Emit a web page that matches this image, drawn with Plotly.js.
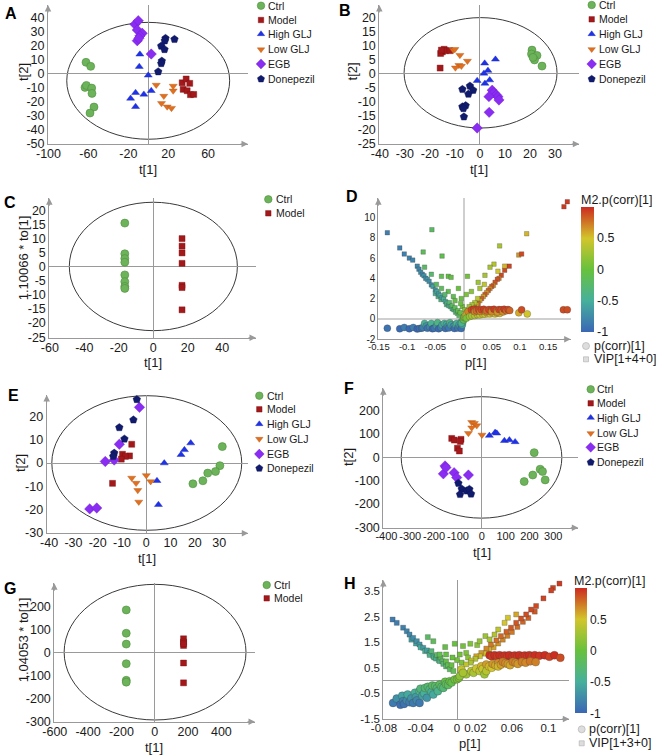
<!DOCTYPE html>
<html><head><meta charset="utf-8">
<script src="https://cdn.plot.ly/plotly-3.0.1.min.js"></script>
<style>html,body{margin:0;padding:0;background:#fff}#chart{width:658px;height:755px}</style>
</head><body><div id="chart"></div>
<script>
// ---------------- DATA ----------------
const GROUPS6 = ['Ctrl','Model','High GLJ','Low GLJ','EGB','Donepezil'];
const GROUPS2 = ['Ctrl','Model'];

// Panel A scores (t[1], t[2])
const A_Ctrl_t1 = [-62.4,-57.7,-63.4,-62.0,-56.7,-56.4,-54.4,-58.4];
const A_Ctrl_t2 = [7.9,5.0,-10.0,-8.6,-10.5,-14.3,-24.0,-28.3];
const A_Model_t1 = [34.0,38.0,41.6,35.0,39.0,42.3,45.6];
const A_Model_t2 = [-6.7,-4.0,-7.1,-11.4,-12.4,-15.2,-15.0];
const A_High_t1 = [-8.4,-9.0,0.0,-12.7,-17.7,-4.4,3.0,-12.7];
const A_High_t2 = [13.6,4.8,-1.4,-13.8,-17.9,-15.0,-12.4,-23.8];
const A_Low_t1 = [8.0,25.0,25.0,15.6,13.3,19.0,23.3];
const A_Low_t2 = [-8.3,-9.0,-12.4,-16.2,-21.4,-23.8,-24.8];
const A_EGB_t1 = [-13.4,-10.0,-11.0,-6.0,-8.4,-11.0,3.0,-9.4];
const A_EGB_t2 = [35.0,37.6,31.0,28.6,26.7,23.3,13.8,25.0];
const A_Don_t1 = [17.3,16.6,26.3,13.0,16.3,13.6,13.0,10.0];
const A_Don_t2 = [25.0,23.3,24.3,19.5,17.1,8.8,7.1,1.2];
const A_ellipse = [-81.7,81.6,-47.0,36.4];

// Panel B
const B_Ctrl_t1 = [20.8,20.6,22.8,21.8,24.8,21.2];
const B_Ctrl_t2 = [8.3,6.9,6.4,4.8,2.6,5.7];
const B_Model_t1 = [-14.3,-15.0,-15.7,-13.7,-12.0,-15.9,-15.4];
const B_Model_t2 = [8.6,7.7,7.1,8.1,8.1,1.9,8.3];
const B_High_t1 = [1.9,6.2,3.2,1.6,-1.1,2.0,3.9];
const B_High_t2 = [3.6,5.0,1.0,0.0,-2.6,-3.6,-2.4];
const B_Low_t1 = [-10.6,-10.0,-8.0,-5.0,-8.4,-7.4,-9.8];
const B_Low_t2 = [8.3,8.6,6.5,4.4,2.9,2.6,2.0];
const B_EGB_t1 = [4.9,5.6,6.5,7.2,7.6,3.6,3.7,-1.1];
const B_EGB_t2 = [-6.0,-6.9,-7.7,-8.3,-9.5,-8.3,-13.9,-19.5];
const B_Don_t1 = [-7.0,-4.0,-2.7,-4.6,-7.0,-5.7,-6.6,-6.4];
const B_Don_t2 = [-5.7,-4.5,-6.0,-7.4,-11.9,-11.5,-12.5,-15.5];
const B_ellipse = [-30.3,30.8,-19.5,19.9];

// Panel C (t[1], 1.10066*to[1])
const C_Ctrl_t1 = [-16.5,-16.5,-16.5,-16.5,-16.5,-16.5,-16.5,-16.5];
const C_Ctrl_to = [15.5,4.6,2.9,1.6,-2.9,-5.3,-7.0,-7.7];
const C_Model_t1 = [16.7,16.7,16.7,16.7,16.7,16.7,16.7];
const C_Model_to = [10.0,7.3,4.9,1.2,-6.6,-7.4,-15.3];
const C_ellipse = [-48.7,48.8,-22.7,22.9];

// Panel E
const E_Ctrl_t1 = [31.3,30.3,28.5,25.3,23.3,19.2];
const E_Ctrl_t2 = [7.1,-1.1,-3.6,-4.3,-7.6,-8.9];
const E_Model_t1 = [-6.0,-6.9,-9.8,-8.6,-10.3,-13.9];
const E_Model_t2 = [8.1,3.1,3.8,2.9,1.7,-8.7];
const E_High_t1 = [18.3,15.7,14.3,7.4,4.4,5.0];
const E_High_t2 = [8.6,5.7,3.6,0.0,-7.6,-17.9];
const E_Low_t1 = [-6.0,-4.2,-3.5,-3.1,0.0,1.8];
const E_Low_t2 = [-6.4,-8.6,-11.7,-16.7,-5.3,-7.9];
const E_EGB_t1 = [-2.8,-11.1,-16.9,-13.2,-23.3,-20.4];
const E_EGB_t2 = [24.0,8.1,0.7,1.3,-19.7,-19.3];
const E_Don_t1 = [-3.9,-5.3,-11.1,-9.0,-13.2,-13.6];
const E_Don_t2 = [27.4,18.6,15.3,10.4,4.3,2.9];
const E_ellipse = [-38.9,39.3,-28.9,29.0];

// Panel F
const F_Ctrl_t1 = [220,214,178,245,255,266];
const F_Ctrl_t2 = [20,-76,-104,-51,-61,-97];
const F_Model_t1 = [-126,-115,-87,-90,-102,-94];
const F_Model_t2 = [81,74,77,68,39,27];
const F_High_t1 = [32,56,63,95,116,140];
const F_High_t2 = [93,106,103,71,74,66];
const F_Low_t1 = [-42,-31,-21,-42,-56,1];
const F_Low_t2 = [150,146,136,127,103,96];
const F_EGB_t1 = [-154,-161,-116,-105,-56,-150];
const F_EGB_t2 = [-37,-71,-66,-87,-76,-44];
const F_Don_t1 = [-98,-84,-91,-63,-52,-45];
const F_Don_t2 = [-111,-136,-159,-144,-137,-157];
const F_ellipse = [-338,336,-261,260];

// Panel G (t[1], 1.04053*to[1])
const G_Ctrl_t1 = [-171,-171,-171,-171,-171,-171];
const G_Ctrl_to = [184,83,36,-49,-121,-129];
const G_Model_t1 = [173,173,173,173,173,173];
const G_Model_to = [59,45,30,38,-46,-132];
const G_ellipse = [-544,548,-293,295];

// Panel D loadings: squares [p1, VIP, p(corr)], circles [p1, p(corr)]
const D_squares = [
 [-0.135,8.5,-0.85],[-0.113,7.0,-0.84],[-0.105,6.4,-0.83],[-0.096,6.0,-0.82],[-0.090,5.8,-0.80],[-0.082,5.2,-0.78],[-0.079,4.9,-0.80],[-0.076,4.6,-0.72],[-0.073,4.4,-0.78],[-0.070,4.25,-0.70],[-0.067,4.0,-0.76],[-0.064,3.9,-0.66],[-0.061,3.7,-0.74],[-0.057,3.35,-0.72],[-0.054,3.2,-0.60],[-0.050,2.86,-0.70],[-0.050,2.5,-0.45],[-0.047,2.7,-0.56],[-0.045,2.2,-0.40],[-0.044,2.46,-0.66],[-0.041,2.3,-0.50],[-0.040,1.9,-0.35],[-0.038,2.1,-0.62],[-0.035,1.95,-0.45],[-0.032,1.7,-0.55],[-0.030,1.4,-0.30],[-0.029,1.55,-0.40],[-0.026,1.3,-0.50],[-0.025,1.6,-0.25],[-0.023,1.2,-0.35],[-0.020,1.0,-0.42],[-0.020,1.3,-0.20],[-0.017,0.9,-0.28],[-0.015,1.1,-0.15],[-0.014,0.66,-0.32],[-0.011,0.55,-0.20],[-0.010,0.8,-0.10],[-0.008,0.33,-0.20],[-0.006,0.6,-0.05],
 [-0.056,8.8,-0.20],[-0.0715,6.6,-0.15],[-0.038,6.2,-0.10],[-0.069,5.1,-0.20],[-0.057,4.4,-0.25],[-0.039,4.2,-0.10],[-0.027,4.2,-0.05],[-0.022,4.1,-0.05],[0.007,4.2,0.05],[-0.048,3.4,-0.20],[-0.039,3.0,-0.15],[-0.027,2.7,-0.10],[-0.009,3.0,0.00],[0.005,2.4,0.10],[-0.018,2.2,-0.10],[-0.004,2.0,0.00],[-0.033,2.4,-0.25],[-0.015,1.8,-0.05],[-0.002,1.2,0.05],[0.002,0.9,0.10],[-0.005,1.5,0.00],
 [0.081,5.2,0.92],[0.073,4.8,0.90],[0.067,4.3,0.90],[0.063,4.0,0.75],[0.060,3.9,0.88],[0.056,3.6,0.87],[0.053,3.3,0.70],[0.050,3.2,0.86],[0.047,3.0,0.70],[0.044,2.8,0.85],[0.041,2.6,0.65],[0.038,2.4,0.85],[0.035,2.2,0.62],[0.032,2.0,0.82],[0.029,1.8,0.60],[0.026,1.5,0.80],[0.025,2.0,0.40],[0.023,1.4,0.55],[0.020,1.2,0.78],[0.020,1.6,0.35],[0.017,1.1,0.50],[0.015,1.4,0.30],[0.014,0.9,0.70],[0.011,0.8,0.45],[0.010,1.2,0.25],[0.008,0.56,0.60],
 [0.064,7.2,0.30],[0.112,8.4,0.55],[0.098,6.3,0.65],[0.103,6.4,0.90],[0.054,5.4,0.35],[0.047,5.1,0.30],[0.073,5.2,0.55],[0.061,4.7,0.50],[0.038,4.3,0.30],[0.026,3.6,0.25],[0.037,3.4,0.40],[0.014,2.7,0.15],[0.029,3.0,0.30],[0.184,11.56,0.95],[0.178,11.07,0.95]
];
const D_circles = [
 [-0.135,-0.92],[-0.113,-0.98],[-0.105,-0.85],[-0.096,-0.98],[-0.089,-0.85],[-0.082,-1.0],[-0.078,-0.95],[-0.074,-0.92],[-0.072,-0.85],[-0.069,-0.45],[-0.066,-0.70],[-0.064,-0.92],[-0.060,-0.80],[-0.057,-0.45],[-0.055,-0.98],[-0.052,-0.92],[-0.048,-0.70],[-0.046,-0.38],[-0.044,-0.98],[-0.040,-0.85],[-0.038,-0.60],[-0.034,-0.45],[-0.032,-0.95],[-0.030,-0.55],[-0.028,-0.75],[-0.026,-0.90],[-0.024,-0.38],[-0.022,-0.60],[-0.018,-0.75],[-0.016,-0.95],[-0.014,-0.55],[-0.012,-0.45],[-0.010,-0.90],[-0.008,-0.60],[-0.006,-0.75],[-0.004,-0.95],[-0.0035,-0.26],[-0.002,-0.60],[-0.001,-0.30],[-0.0035,-0.43],
 [0.0,-0.10],[0.001,0.13],[0.002,0.20],[0.0035,0.33],[0.004,0.40],[0.006,0.56],[0.008,0.72],
 [0.005,0.07],[0.011,0.23],[0.015,0.30],[0.020,0.33],[0.025,0.40],[0.029,0.39],[0.034,0.45],[0.038,0.46],[0.043,0.50],[0.047,0.49],[0.052,0.52],[0.056,0.49],[0.060,0.55],[0.064,0.53],
 [0.014,0.89],[0.018,0.95],[0.020,0.70],[0.023,0.79],[0.027,0.92],[0.030,0.72],[0.032,0.89],[0.036,0.95],[0.040,0.68],[0.041,0.79],[0.045,0.92],[0.050,0.89],[0.050,0.70],[0.054,0.95],[0.059,0.79],[0.060,0.66],[0.063,0.92],[0.067,0.89],[0.070,0.68],[0.072,0.95],[0.076,0.79],[0.079,0.92],[0.082,0.82],[0.098,0.59],[0.103,0.89],[0.113,0.49],[0.177,0.89],[0.184,0.89]
];

// Panel H loadings
const H_squares = [
 [-0.0705,2.39,-0.85],[-0.066,2.26,-0.85],[-0.059,2.07,-0.82],[-0.055,1.93,-0.80],[-0.052,1.80,-0.78],[-0.050,1.60,-0.60],[-0.048,1.67,-0.75],[-0.045,1.45,-0.55],[-0.044,1.54,-0.72],[-0.041,1.41,-0.68],[-0.040,1.30,-0.50],[-0.037,1.28,-0.64],[-0.035,1.15,-0.45],[-0.033,1.18,-0.60],[-0.030,1.07,-0.55],[-0.030,1.00,-0.40],[-0.028,1.15,-0.30],[-0.026,0.95,-0.50],[-0.025,0.90,-0.35],[-0.023,0.86,-0.45],[-0.022,1.00,-0.22],[-0.020,0.80,-0.25],[-0.019,0.76,-0.38],[-0.018,0.90,-0.15],[-0.016,0.75,-0.20],[-0.015,0.65,-0.30],[-0.012,0.55,-0.25],[-0.012,0.75,-0.08],[-0.010,0.60,-0.12],[-0.008,0.44,-0.18],[-0.006,0.60,-0.02],[-0.004,0.37,-0.10],
 [-0.032,1.70,-0.20],[-0.026,1.54,-0.15],[-0.013,1.31,-0.05],[-0.0025,1.44,0.0],[0.0065,1.35,0.05],[0.0145,1.44,0.10],[0.022,1.39,0.15],[-0.012,1.02,-0.05],[-0.019,1.02,-0.10],[0.003,1.02,0.05],[0.010,1.08,0.10],[0.0,0.80,0.05],[0.005,0.70,0.10],[0.012,0.90,0.15],[-0.005,0.90,0.0],
 [0.112,3.80,0.95],[0.105,3.63,0.93],[0.103,3.53,0.93],[0.0945,3.22,0.92],[0.0865,2.92,0.90],[0.085,2.70,0.85],[0.081,2.78,0.90],[0.078,2.45,0.82],[0.0756,2.59,0.88],[0.072,2.30,0.80],[0.070,2.43,0.87],[0.066,2.10,0.78],[0.0647,2.26,0.86],[0.060,1.90,0.75],[0.059,2.07,0.85],[0.055,1.75,0.72],[0.054,1.91,0.83],[0.050,1.60,0.70],[0.048,1.74,0.80],[0.045,1.45,0.65],[0.043,1.57,0.78],[0.040,1.30,0.60],[0.037,1.41,0.75],[0.035,1.20,0.55],[0.032,1.25,0.70],[0.030,1.05,0.50],[0.0265,1.08,0.65],[0.025,0.95,0.45],[0.021,0.95,0.60],[0.020,0.85,0.35],[0.0156,0.78,0.50],[0.015,0.70,0.30],[0.010,0.63,0.40],
 [0.0647,2.59,0.60],[0.0556,2.46,0.50],[0.052,2.26,0.50],[0.045,2.00,0.40],[0.041,1.80,0.35],[0.031,1.74,0.25],[0.0356,1.61,0.30],[0.0247,1.54,0.20]
];
const H_circles = [
 [0.0356,0.99],[0.038,0.95],[0.041,0.99],[0.044,0.95],[0.0465,0.99],[0.050,0.95],[0.052,0.98],[0.055,0.95],[0.057,0.99],[0.061,0.95],[0.063,0.98],[0.066,0.95],[0.068,0.99],[0.072,0.95],[0.074,0.98],[0.077,0.95],[0.079,0.99],[0.082,0.95],[0.085,0.99],[0.090,0.97],[0.096,0.99],[0.101,0.93],[0.1065,0.99],[0.113,0.89],
 [0.010,0.24],[0.0156,0.37],[0.018,0.30],[0.021,0.47],[0.0247,0.37],[0.0265,0.56],[0.028,0.45],[0.030,0.24],[0.032,0.63],[0.032,0.37],[0.035,0.55],[0.038,0.50],[0.039,0.65],[0.042,0.60],[0.045,0.69],[0.045,0.55],[0.048,0.62],[0.050,0.73],[0.053,0.68],[0.0556,0.65],[0.058,0.60],[0.061,0.73],[0.064,0.70],[0.0665,0.65],[0.071,0.73],[0.075,0.70],[0.080,0.75],[0.086,0.72],
 [-0.070,-0.88],[-0.066,-0.71],[-0.062,-0.95],[-0.060,-0.60],[-0.059,-0.81],[-0.058,-0.92],[-0.055,-0.78],[-0.054,-0.55],[-0.052,-0.85],[-0.050,-0.70],[-0.048,-0.88],[-0.046,-0.48],[-0.045,-0.65],[-0.044,-0.78],[-0.041,-0.88],[-0.041,-0.42],[-0.040,-0.32],[-0.038,-0.60],[-0.036,-0.50],[-0.035,-0.29],[-0.033,-0.68],[-0.032,-0.25],[-0.030,-0.35],[-0.028,-0.45],[-0.027,-0.20],[-0.026,-0.55],[-0.024,-0.22],[-0.022,-0.30],[-0.021,-0.42],[-0.019,-0.16],[-0.017,-0.25],[-0.015,-0.29],[-0.013,-0.05],[-0.012,-0.15],[-0.0098,-0.18],[-0.008,-0.03],[-0.006,-0.08],[-0.0025,0.04],
 [0.0,0.05],[0.002,0.10],[0.003,0.17],[0.0047,0.43],[0.0065,0.30]
];

// Tick labels
const A_xt = [-100,-60,-20,20,60], A_yt = [-50,-40,-30,-20,-10,0,10,20,30,40];
const B_xt = [-40,-30,-20,-10,0,10,20,30], B_yt = [-25,-20,-15,-10,-5,0,5,10,15,20];
const C_xt = [-60,-40,-20,0,20,40], C_yt = [-25,-20,-15,-10,-5,0,5,10,15,20];
const D_xt = [-0.15,-0.1,-0.05,0,0.05,0.1,0.15], D_yt = [-2,0,2,4,6,8,10];
const E_xt = [-40,-30,-20,-10,0,10,20,30], E_yt = [-30,-20,-10,0,10,20];
const F_xt = [-400,-300,-200,-100,0,100,200,300], F_yt = [-300,-200,-100,0,100,200];
const G_xt = [-600,-400,-200,0,200,400], G_yt = [-300,-200,-100,0,100,200];
const H_xt = [-0.08,-0.04,0,0.02,0.06,0.1], H_yt = [-1.5,-0.5,0.5,1.5,2.5,3.5];
const CB_ticks = [-1,-0.5,0,0.5];

// ---------------- STYLE / LAYOUT ----------------
const W = 658, H = 755;
const FONT = '"Liberation Sans", Arial, sans-serif';
const TXT = '#1a1a1a';
const STY = {
 'Ctrl': {symbol:'circle', color:'#6db35a', line:{color:'#4e8f3e',width:0.6}, size:8},
 'Model': {symbol:'square', color:'#a3181a', line:{color:'#7f1010',width:0.4}, size:6},
 'High GLJ': {symbol:'triangle-up', color:'#1f32e8', line:{color:'#1a28b8',width:0.4}, size:7},
 'Low GLJ': {symbol:'triangle-down', color:'#e0701f', line:{color:'#b65612',width:0.4}, size:7},
 'EGB': {symbol:'diamond', color:'#8a2cf2', line:{color:'#6a1ccc',width:0.4}, size:8},
 'Donepezil': {symbol:'pentagon', color:'#111b6e', line:{color:'#0a1250',width:0.4}, size:8}
};
const CS = [[0,'#3b67b5'],[0.25,'#46b09c'],[0.5,'#68c13d'],[0.75,'#d3c52b'],[1,'#cd2a20']];

const PANELS = [
 {n:1, x:[48,248], y:[5,144], xr:[-100.5,100], yr:[-50.4,48.8], xt:A_xt, yt:A_yt, xfs:12.5, yfs:12.5, zc:'#9a9a9a', zw:1},
 {n:2, x:[379.3,579.3], y:[5,144], xr:[-40.2,39.7], yr:[-25.2,24.4], xt:B_xt, yt:B_yt, xfs:12.5, yfs:12.5, zc:'#9a9a9a', zw:1},
 {n:3, x:[49.3,256], y:[198.3,337.7], xr:[-60.3,59.6], yr:[-25.2,24.3], xt:C_xt, yt:C_yt, xfs:12.5, yfs:12.5, zc:'#9a9a9a', zw:1},
 {n:4, x:[378.3,570.7], y:[198.3,339.3], xr:[-0.151,0.19], yr:[-2.02,11.9], xt:D_xt, yt:D_yt, xfs:9.5, yfs:10, zc:'#cfcfcf', zw:2},
 {n:5, x:[46.7,248.3], y:[395,533.3], xr:[-41,42], yr:[-30.2,29.3], xt:E_xt, yt:E_yt, xfs:12.5, yfs:12.5, zc:'#9a9a9a', zw:1},
 {n:6, x:[383.3,578.3], y:[388.3,527.7], xr:[-413,405], yr:[-302,296], xt:F_xt, yt:F_yt, xfs:11, yfs:12.5, zc:'#9a9a9a', zw:1},
 {n:7, x:[54.3,255], y:[583.3,721.7], xr:[-603,602], yr:[-300.5,299.5], xt:G_xt, yt:G_yt, xfs:12.5, yfs:12.5, zc:'#9a9a9a', zw:1},
 {n:8, x:[383.3,569.3], y:[580,719], xr:[-0.0807,0.1228], yr:[-1.51,3.94], xt:H_xt, yt:H_yt, xfs:11.5, yfs:11.5, zc:'#9a9a9a', zw:1}
];

const layout = {
 width:W, height:H, margin:{l:0,r:0,t:0,b:0}, paper_bgcolor:'#fff', plot_bgcolor:'rgba(0,0,0,0)',
 showlegend:false, shapes:[], annotations:[], font:{family:FONT, color:TXT}
};
const ax = n => n===1 ? '' : String(n);

PANELS.forEach(p => {
 const s = ax(p.n);
 const common = {ticks:'', tickangle:0, showgrid:false, zeroline:true, zerolinecolor:p.zc, zerolinewidth:p.zw, showline:true,
   linecolor:'#999', linewidth:1, tickmode:'array', fixedrange:true, automargin:false};
 layout['xaxis'+s] = Object.assign({domain:[p.x[0]/W, p.x[1]/W], range:p.xr, anchor:'y'+s, tickvals:p.xt, ticktext:p.xt.map(String),
   tickfont:{family:FONT, size:p.xfs, color:TXT}, ticklabelstandoff:-2}, common);
 layout['yaxis'+s] = Object.assign({domain:[1-p.y[1]/H, 1-p.y[0]/H], range:p.yr, anchor:'x'+s, tickvals:p.yt, ticktext:p.yt.map(String),
   tickfont:{family:FONT, size:p.yfs, color:TXT}}, common);
 // axis arrows
 layout.annotations.push({xref:'paper', yref:'paper', x:p.x[0]/W, y:1-p.y[0]/H, ax:0, ay:9, text:'', showarrow:true, arrowhead:2, arrowsize:1.3, arrowwidth:1, arrowcolor:'#999'});
 layout.annotations.push({xref:'paper', yref:'paper', x:p.x[1]/W, y:1-p.y[1]/H, ax:-9, ay:0, text:'', showarrow:true, arrowhead:2, arrowsize:1.3, arrowwidth:1, arrowcolor:'#999'});
});
// overlay axis in pixel units for the legends
layout.xaxis9 = {domain:[0,1], range:[0,W], visible:false, fixedrange:true, anchor:'y9'};
layout.yaxis9 = {domain:[0,1], range:[H,0], visible:false, fixedrange:true, anchor:'x9'};

const traces = [];
function scores(n, groups, xs, ys, ell) {
 const s = ax(n);
 groups.forEach((g,i) => {
  const st = STY[g];
  traces.push({type:'scatter', mode:'markers', x:xs[i], y:ys[i], xaxis:'x'+s, yaxis:'y'+s, name:g, hoverinfo:'skip', cliponaxis:false,
    marker:{symbol:st.symbol, size:st.size, color:st.color, line:st.line}});
 });
 layout.shapes.push({type:'circle', xref:'x'+s, yref:'y'+s, x0:ell[0], x1:ell[1], y0:ell[2], y1:ell[3], line:{color:'#3a3a3a', width:1}, layer:'below'});
}
scores(1, GROUPS6, [A_Ctrl_t1,A_Model_t1,A_High_t1,A_Low_t1,A_EGB_t1,A_Don_t1], [A_Ctrl_t2,A_Model_t2,A_High_t2,A_Low_t2,A_EGB_t2,A_Don_t2], A_ellipse);
scores(2, GROUPS6, [B_Ctrl_t1,B_Model_t1,B_High_t1,B_Low_t1,B_EGB_t1,B_Don_t1], [B_Ctrl_t2,B_Model_t2,B_High_t2,B_Low_t2,B_EGB_t2,B_Don_t2], B_ellipse);
scores(3, GROUPS2, [C_Ctrl_t1,C_Model_t1], [C_Ctrl_to,C_Model_to], C_ellipse);
scores(5, GROUPS6, [E_Ctrl_t1,E_Model_t1,E_High_t1,E_Low_t1,E_EGB_t1,E_Don_t1], [E_Ctrl_t2,E_Model_t2,E_High_t2,E_Low_t2,E_EGB_t2,E_Don_t2], E_ellipse);
scores(6, GROUPS6, [F_Ctrl_t1,F_Model_t1,F_High_t1,F_Low_t1,F_EGB_t1,F_Don_t1], [F_Ctrl_t2,F_Model_t2,F_High_t2,F_Low_t2,F_EGB_t2,F_Don_t2], F_ellipse);
scores(7, GROUPS2, [G_Ctrl_t1,G_Model_t1], [G_Ctrl_to,G_Model_to], G_ellipse);

function loadings(n, sq, ci, caxis, sqSize, ciSize) {
 const s = ax(n);
 const ln = {color:'rgba(60,60,60,0.55)', width:0.5};
 traces.push({type:'scatter', mode:'markers', x:sq.map(r=>r[0]), y:sq.map(r=>r[1]), xaxis:'x'+s, yaxis:'y'+s, hoverinfo:'skip', cliponaxis:false,
   marker:{symbol:'square', size:sqSize, color:sq.map(r=>r[2]), coloraxis:caxis, line:ln}});
 traces.push({type:'scatter', mode:'markers', x:ci.map(r=>r[0]), y:ci.map(r=>r[1]), xaxis:'x'+s, yaxis:'y'+s, hoverinfo:'skip', cliponaxis:false,
   marker:{symbol:'circle', size:ciSize, color:ci.map(r=>r[1]), coloraxis:caxis, line:ln}});
}
loadings(4, D_squares, D_circles, 'coloraxis', 4.5, 7);
loadings(8, H_squares, H_circles, 'coloraxis2', 5, 8);

function cbar(x0, yTop, yBot, thick, fs) {
 return {cmin:-1, cmax:1, colorscale:CS, colorbar:{x:x0/W, xanchor:'left', xpad:0, y:1-yBot/H, yanchor:'bottom', ypad:0,
   len:(yBot-yTop)/H, lenmode:'fraction', thickness:thick, thicknessmode:'pixels', outlinewidth:0, tickmode:'array',
   tickvals:CB_ticks, ticktext:CB_ticks.map(String), ticks:'', tickfont:{family:FONT, size:fs, color:TXT}}};
}
layout.coloraxis = cbar(580.7, 206.7, 331.7, 12.6, 12.5);
layout.coloraxis2 = cbar(575, 588.3, 713.3, 11.7, 12);

// legends (pixel overlay)
const LEG = [
 {groups:GROUPS6, mx:261, tx:267, ys:[5.7,20,34,49.5,64,79]},
 {groups:GROUPS6, mx:591.7, tx:598, ys:[5,19.3,34,49.3,64,79]},
 {groups:GROUPS2, mx:268.3, tx:275, ys:[199.3,213.3]},
 {groups:GROUPS6, mx:259.3, tx:265.7, ys:[395.7,409.3,424,439,454,468.3]},
 {groups:GROUPS6, mx:590.7, tx:596, ys:[389.3,403.3,417.7,433.3,447.3,462.3]},
 {groups:GROUPS2, mx:266.7, tx:273, ys:[585,598.3]}
];
const ann = (x,y,text,o) => layout.annotations.push(Object.assign({xref:'paper', yref:'paper', x:x/W, y:1-y/H, text:text, showarrow:false,
  xanchor:'left', yanchor:'middle', font:{family:FONT, size:10.5, color:TXT}}, o||{}));
LEG.forEach(L => {
 L.groups.forEach((g,i) => {
  const st = STY[g];
  traces.push({type:'scatter', mode:'markers', x:[L.mx], y:[L.ys[i]], xaxis:'x9', yaxis:'y9', hoverinfo:'skip', cliponaxis:false,
    marker:{symbol:st.symbol, size:st.size-0.5, color:st.color, line:st.line}});
  ann(L.tx-1, L.ys[i], g);
 });
});
// loading legends
[[586,593,346,359.3,'VIP[1+4+0]'],[581.7,588,729.3,743.3,'VIP[1+3+0]']].forEach(a => {
 traces.push({type:'scatter', mode:'markers', x:[a[0],a[0]], y:[a[2],a[3]], xaxis:'x9', yaxis:'y9', hoverinfo:'skip', cliponaxis:false,
   marker:{symbol:['circle','square'], size:[7,5], color:'#d0d0d0', line:{color:'#8a8a8a', width:0.6}}});
 ann(a[1]-1, a[2], 'p(corr)[1]', {font:{family:FONT, size:12.5, color:TXT}});
 ann(a[1]-1, a[3], a[4], {font:{family:FONT, size:12.5, color:TXT}});
});
// colorbar titles
ann(579, 200, 'M2.p(corr)[1]', {font:{family:FONT, size:12.5, color:TXT}});
ann(572, 580.7, 'M2.p(corr)[1]', {font:{family:FONT, size:12.5, color:TXT}});

// axis titles
const TF = {family:FONT, size:13, color:TXT};
[[148,169,'t[1]'],[479,169.3,'t[1]'],[152.7,362.7,'t[1]'],[475.7,362.5,'p[1]'],[147,558,'t[1]'],[481.7,552.7,'t[1]'],[154.3,747.5,'t[1]'],[470,743.3,'p[1]']]
 .forEach(t => ann(t[0], t[1], t[2], {xanchor:'center', font:TF}));
[[23,72,'t[2]'],[352.7,71.7,'t[2]'],[23.3,258,'1.10066 * to[1]'],[20,463,'t[2]'],[348.3,456.7,'t[2]'],[23.3,640,'1.04053 * to[1]']]
 .forEach(t => ann(t[0], t[1], t[2], {xanchor:'center', textangle:-90, font:TF}));

// panel letters
[['A',3,13.5],['B',337,10.5],['C',2,203],['D',344,196],['E',6,395],['F',342,388.5],['G',2,588.5],['H',342,583.5]]
 .forEach(l => ann(l[1], l[2], '<b>'+l[0]+'</b>', {font:{family:FONT, size:16, color:'#000'}}));

Plotly.newPlot('chart', traces, layout, {displayModeBar:false, staticPlot:true});
</script></body></html>
